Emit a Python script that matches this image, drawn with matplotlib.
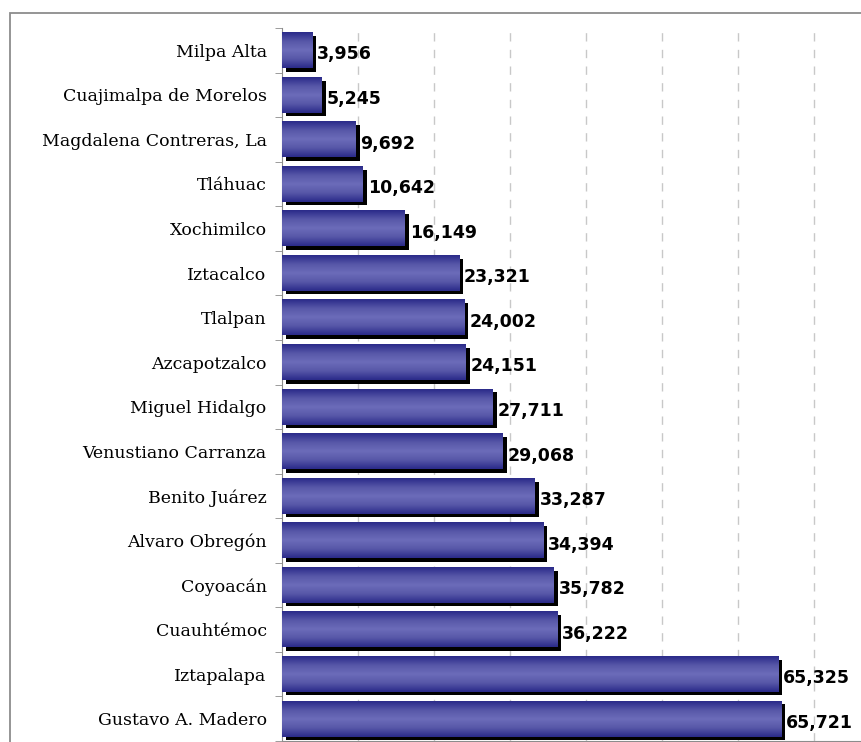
import numpy as np
import matplotlib.pyplot as plt
from matplotlib.colors import LinearSegmentedColormap
from matplotlib.patches import Rectangle
from matplotlib import transforms

delegaciones = ["Milpa Alta", "Cuajimalpa de Morelos", "Magdalena Contreras, La",
                "Tláhuac", "Xochimilco", "Iztacalco", "Tlalpan", "Azcapotzalco",
                "Miguel Hidalgo", "Venustiano Carranza", "Benito Juárez",
                "Alvaro Obregón", "Coyoacán", "Cuauhtémoc", "Iztapalapa",
                "Gustavo A. Madero"]
valores = [3956, 5245, 9692, 10642, 16149, 23321, 24002, 24151, 27711,
           29068, 33287, 34394, 35782, 36222, 65325, 65721]

fig = plt.figure(figsize=(8.61, 7.42), dpi=100)
W, H = 861, 742

# outer chart border (cropped at right and bottom)
fig.patches.append(Rectangle((10 / W, -0.1), 2, 1.1 - 13 / H,
                             transform=fig.transFigure, fill=False,
                             edgecolor="#8c8c8c", linewidth=1.3))

ax = fig.add_axes([282 / W, 1 - 741 / H, 608 / W, 713 / H])

grad = LinearSegmentedColormap.from_list(
    "barra", ["#2b2b8a", "#5757a8", "#6c6cba", "#5757a8", "#2b2b8a"])
g = np.linspace(0, 1, 64).reshape(-1, 1)

alto = 0.8
y = np.arange(len(delegaciones))
# sombra desplazada en pixeles
sombra = transforms.offset_copy(ax.transData, fig=fig, x=4, y=-3.5, units="dots")
for i, v in enumerate(valores):
    ax.add_patch(Rectangle((0, i - alto / 2), v, alto, facecolor="black",
                           edgecolor="none", transform=sombra, zorder=2))
    ax.imshow(g, cmap=grad, aspect="auto", extent=(0, v, i + alto / 2, i - alto / 2),
              zorder=3, interpolation="bilinear")
    ax.annotate(f"{v:,}", (v, i), xytext=(3.5, -3), textcoords="offset points",
                va="center", ha="left", fontsize=12.5, fontweight="bold",
                family="DejaVu Sans", zorder=4)

ax.set_xlim(0, 80000)
ax.set_ylim(len(delegaciones) - 0.5, -0.5)
ax.set_xticks(np.arange(10000, 80001, 10000))
ax.set_xticklabels([])
ax.tick_params(axis="x", length=0)
ax.grid(axis="x", color="#c8c8c8", linestyle=(0, (6, 6)), linewidth=1, zorder=0)
ax.set_axisbelow(True)

ax.set_yticks(y)
ax.set_yticklabels(delegaciones, family="DejaVu Serif", fontsize=12.5)
ax.set_yticks(np.arange(-0.5, len(delegaciones)), minor=True)
ax.tick_params(axis="y", which="major", length=0, pad=11)
ax.tick_params(axis="y", which="minor", length=5, color="#8c8c8c")

for s in ["top", "right"]:
    ax.spines[s].set_visible(False)
ax.spines["left"].set_color("#8c8c8c")
ax.spines["bottom"].set_color("#8c8c8c")

fig.savefig("out.png", dpi=100)
